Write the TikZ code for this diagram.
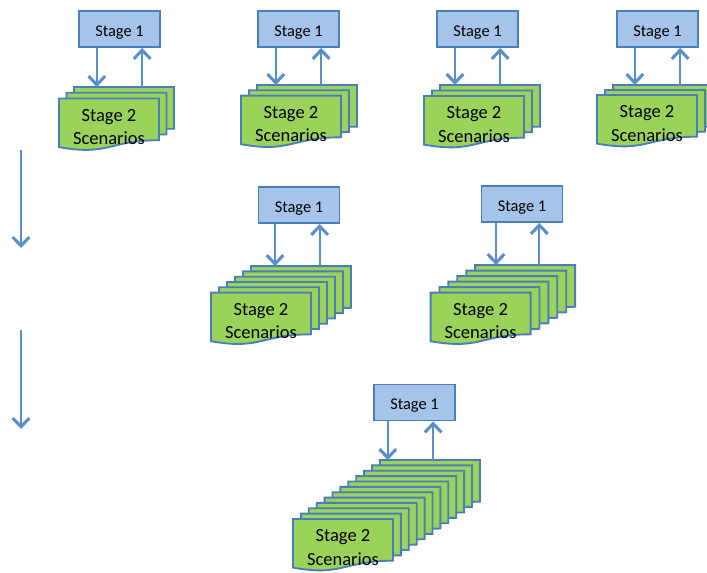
\documentclass[tikz,border=0pt]{standalone}
\usepackage{fontspec}
\setmainfont{Carlito}
\usetikzlibrary{arrows.meta,calc}

\definecolor{boxblue}{HTML}{A6C3EA}
\definecolor{edgeblue}{HTML}{4A7EBB}
\definecolor{pagegreen}{HTML}{9BD35A}
\definecolor{flowblue}{HTML}{5A8FCC}

\begin{document}
\begin{tikzpicture}[
x=0.75pt,y=-0.75pt,
stg/.style={draw=edgeblue,fill=boxblue,line width=1.4pt,minimum width=60.75pt,minimum height=27pt,inner sep=0pt,text height=11pt,text depth=0pt,font=\fontsize{12.3}{14}\selectfont},
page/.style={draw=edgeblue,fill=pagegreen,line width=1.4pt,line join=miter},
scen/.style={align=center,font=\fontsize{13.9}{17.6}\selectfont,inner sep=0pt},
flow/.style={draw=flowblue,line width=1.3pt,-{Straight Barb[length=2.3mm,width=4.4mm,line width=2.3pt]}},
% a stack of scenario pages: count, x step, y step
pics/scenstack/.style n args={3}{code={
  \foreach \k in {#1,...,1}{
    \begin{scope}[shift={({(\k-1)*#2},{-(\k-1)*#3})}]
      \path[page] (0,0) -- (100,0) -- (100,41.7)
        .. controls (50,41.7) and (50,57.6) .. (0,48.6) -- cycle;
    \end{scope}
  }
  \coordinate (-top) at ({(#1-1)*#2},{-(#1-1)*#3});
  \node[scen] (-txt) at (50,28.5) {Stage 2\\Scenarios};
}}
]
\useasboundingbox (0,0) rectangle (707,572);

% first row
\node[stg] (s1) at (119.5,29) {Stage 1};
\pic (g1) at (59,98.5) {scenstack={3}{7.5}{5.75}};
\draw[flow] ([xshift=-17pt]s1.south) -- ([xshift=-17pt]s1.south |- g1-top);
\draw[flow] ([xshift=17pt]s1.south |- g1-top) -- ([xshift=17pt]s1.south);

\node[stg] (s2) at (298.5,29) {Stage 1};
\pic (g2) at (241,95.6) {scenstack={3}{8}{5.3}};
\draw[flow] ([xshift=-17pt]s2.south) -- ([xshift=-17pt]s2.south |- g2-top);
\draw[flow] ([xshift=17pt]s2.south |- g2-top) -- ([xshift=17pt]s2.south);

\node[stg] (s3) at (477.5,29) {Stage 1};
\pic (g3) at (424,96) {scenstack={3}{8}{5.5}};
\draw[flow] ([xshift=-16.9pt]s3.south) -- ([xshift=-16.9pt]s3.south |- g3-top);
\draw[flow] ([xshift=17pt]s3.south |- g3-top) -- ([xshift=17pt]s3.south);

\node[stg] (s4) at (657.5,29) {Stage 1};
\pic (g4) at (597,95) {scenstack={3}{8}{5}};
\draw[flow] ([xshift=-17pt]s4.south) -- ([xshift=-17pt]s4.south |- g4-top);
\draw[flow] ([xshift=17pt]s4.south |- g4-top) -- ([xshift=17pt]s4.south);

% second row
\node[stg] (s5) at (299,205) {Stage 1};
\pic (g5) at (211,292.6) {scenstack={6}{8}{5.3}};
\draw[flow] ([xshift=-18pt]s5.south) -- ([xshift=-18pt]s5.south |- g5-top);
\draw[flow] ([xshift=15.5pt]s5.south |- g5-top) -- ([xshift=15.5pt]s5.south);

\node[stg] (s6) at (522,204) {Stage 1};
\pic (g6) at (430.6,292.6) {scenstack={6}{8.9}{5.5}};
\draw[flow] ([xshift=-19.5pt]s6.south) -- ([xshift=-19.5pt]s6.south |- g6-top);
\draw[flow] ([xshift=13pt]s6.south |- g6-top) -- ([xshift=13pt]s6.south);

% third row
\node[stg] (s7) at (414.5,402.5) {Stage 1};
\pic (g7) at (293,519) {scenstack={12}{7.9}{5.36}};
\draw[flow] ([xshift=-20pt]s7.south) -- ([xshift=-20pt]s7.south |- g7-top);
\draw[flow] ([xshift=14pt]s7.south |- g7-top) -- ([xshift=14pt]s7.south);

% arrows down the left side
\coordinate (l1a) at (21,150);
\coordinate (l1b) at (21,248);
\coordinate (l2a) at (21,330);
\coordinate (l2b) at (21,429);
\draw[flow] (l1a) -- (l1b);
\draw[flow] (l2a) -- (l2b);
\end{tikzpicture}
\end{document}
